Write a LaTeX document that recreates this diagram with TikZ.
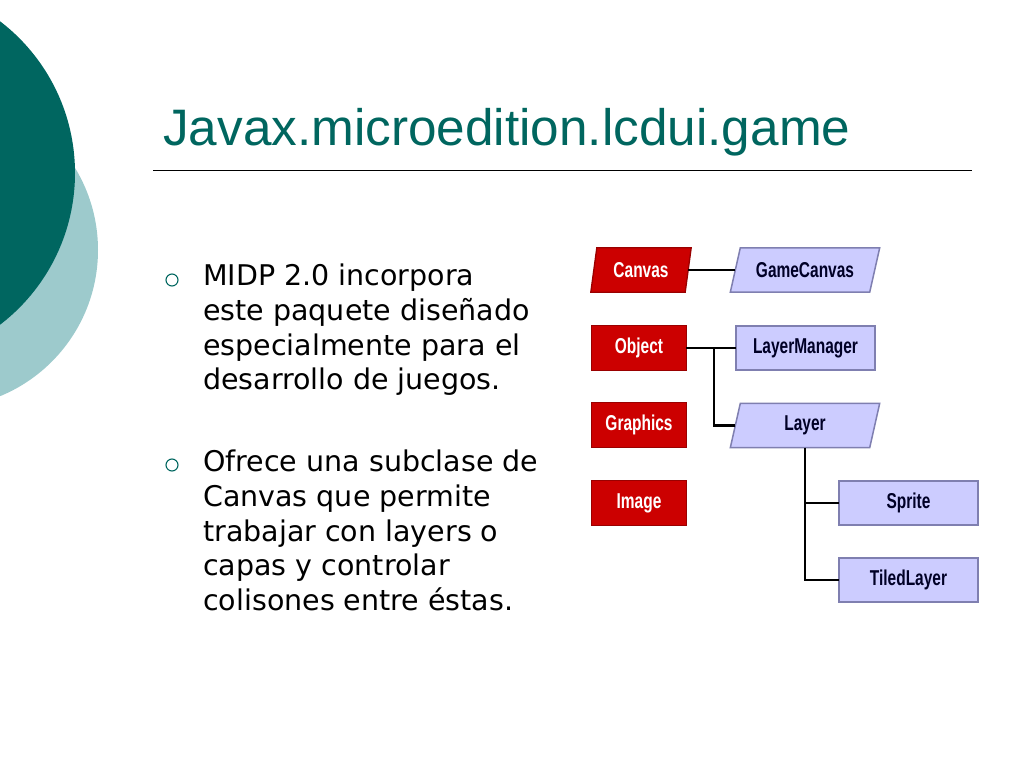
\documentclass[tikz,border=0pt]{standalone}
\usepackage{fontspec}
\setmainfont{Liberation Sans}
\newfontfamily\bodyfont{DejaVu Sans}
\newfontfamily\boxfont[FakeStretch=0.72]{Liberation Sans Bold}
\usetikzlibrary{backgrounds}
\definecolor{darkteal}{HTML}{006660}
\definecolor{lightteal}{HTML}{9DCACC}
\definecolor{titleteal}{HTML}{00665F}
\definecolor{boxred}{HTML}{CC0000}
\definecolor{boxredline}{HTML}{9A0000}
\definecolor{lav}{HTML}{CCCCFF}
\definecolor{lavline}{HTML}{7F7FB0}
\tikzset{
  redtxt/.style={inner sep=0pt, minimum width=94pt, minimum height=44pt, text=white, font=\boxfont\fontsize{21.5}{24}\selectfont},
  lavtxt/.style={inner sep=0pt, minimum width=139pt, minimum height=44pt, text=black!85!blue, font=\boxfont\fontsize{21.5}{24}\selectfont},
  redbox/.style={fill=boxred, draw=boxredline, line width=1.3pt},
  lavbox/.style={fill=lav, draw=lavline, line width=1.5pt},
  conn/.style={draw=black, line width=2.1pt},
  bodytext/.style={anchor=north west, align=left, inner sep=0pt, font=\bodyfont\fontsize{28.5}{34.7}\selectfont},
  bulletmark/.style={circle, draw=titleteal, line width=1.1pt, minimum size=12pt, inner sep=0pt}
}
\begin{document}
\begin{tikzpicture}[x=1pt,y=-1pt]
\useasboundingbox (0,0) rectangle (1024,768);
% decorative circles
\begin{scope}
\clip (0,0) rectangle (1024,768);
\fill[lightteal] (-60,250) circle (158);
\fill[darkteal] (-116,173) circle (191);
\end{scope}
% title
\node[anchor=base west, inner sep=0pt, text=titleteal, font=\fontsize{51.3}{60}\selectfont] (title) at (163,145) {Javax.microedition.lcdui.game};
\coordinate (rl) at (153,170);
\coordinate (rr) at (972,170);
\draw[line width=1pt] (rl) -- (rr);
% bullets
\node[bulletmark] (b1) at (172,280) {};
\node[bulletmark] (b2) at (172,465) {};
\node[bodytext] (t1) at (203,264) {MIDP 2.0 incorpora\\este paquete diseñado\\especialmente para el\\desarrollo de juegos.};
\node[bodytext] (t2) at (203,450) {Ofrece una subclase de\\Canvas que permite\\trabajar con layers o\\capas y controlar\\colisones entre éstas.};
% diagram nodes
\node[redtxt] (canvas) at (641,270) {Canvas};
\node[lavtxt] (gamecanvas) at (805,270) {GameCanvas};
\node[redtxt] (object) at (639,348) {Object};
\node[lavtxt] (layermanager) at (805.5,348) {LayerManager};
\node[redtxt] (graphics) at (639,425) {Graphics};
\node[lavtxt] (layer) at (805,425.5) {Layer};
\node[redtxt] (image) at (639,503) {Image};
\node[lavtxt] (sprite) at (908.5,503) {Sprite};
\node[lavtxt] (tiled) at (908.5,580) {TiledLayer};
\begin{pgfonlayer}{background}
\draw[redbox] ([xshift=3pt]canvas.north west) -- ([xshift=3pt]canvas.north east) -- ([xshift=-3pt]canvas.south east) -- ([xshift=-3pt]canvas.south west) -- cycle;
\draw[lavbox] ([xshift=5pt]gamecanvas.north west) -- ([xshift=5pt]gamecanvas.north east) -- ([xshift=-5pt]gamecanvas.south east) -- ([xshift=-5pt]gamecanvas.south west) -- cycle;
\draw[lavbox] ([xshift=5pt]layer.north west) -- ([xshift=5pt]layer.north east) -- ([xshift=-5pt]layer.south east) -- ([xshift=-5pt]layer.south west) -- cycle;
\draw[redbox] (object.north west) rectangle (object.south east);
\draw[redbox] (graphics.north west) rectangle (graphics.south east);
\draw[redbox] (image.north west) rectangle (image.south east);
\draw[lavbox] (layermanager.north west) rectangle (layermanager.south east);
\draw[lavbox] (sprite.north west) rectangle (sprite.south east);
\draw[lavbox] (tiled.north west) rectangle (tiled.south east);
\end{pgfonlayer}
% connectors
\coordinate (j) at (714,348);
\draw[conn] (canvas.east) -- (gamecanvas.west);
\draw[conn] (object.east) -- (layermanager.west);
\draw[conn] (j) |- (layer.west);
\draw[conn] (layer.south) |- (tiled.west);
\draw[conn] (layer.south |- sprite.west) -- (sprite.west);
\end{tikzpicture}
\end{document}
